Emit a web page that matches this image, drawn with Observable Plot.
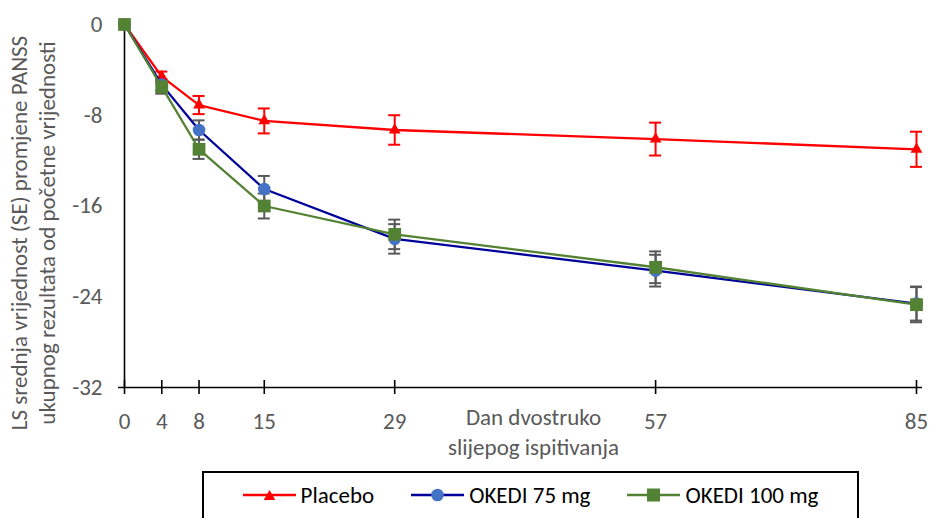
<!DOCTYPE html>
<html>
<head>
<meta charset="utf-8">
<script src="https://cdn.jsdelivr.net/npm/d3@7"></script>
<script src="https://cdn.jsdelivr.net/npm/@observablehq/plot@0.6"></script>
<style>
  html, body { margin: 0; padding: 0; background: white; }
  body { width: 929px; height: 518px; overflow: hidden; font-family: Carlito, Lato, sans-serif; }
  #legend {
    margin-left: 202px; margin-top: 1px; width: 657px; height: 60px; box-sizing: border-box;
    border: 2px solid #000; display: flex; justify-content: center; gap: 37px;
    align-items: flex-start; padding-top: 8px; font-size: 23px; color: #000;
  }
  .item { display: flex; align-items: center; gap: 5px; }
  .item svg { display: block; }
</style>
</head>
<body>
<div id="chart"></div>
<div id="legend"></div>
<script>
// ---- data ----
const days = [0, 4, 8, 15, 29, 57, 85];
const seriesNames = ["Placebo", "OKEDI 75 mg", "OKEDI 100 mg"];
const placebo   = [0, -4.6, -7.1, -8.5, -9.3, -10.1, -11.0];
const placeboSE = [0, 0.45, 0.8, 1.1, 1.3, 1.45, 1.55];
const okedi75   = [0, -5.3, -9.3, -14.5, -18.9, -21.7, -24.6];
const okedi75SE = [0, 0.5, 0.85, 1.15, 1.3, 1.4, 1.5];
const okedi100   = [0, -5.5, -11.0, -16.0, -18.5, -21.4, -24.7];
const okedi100SE = [0, 0.6, 0.85, 1.1, 1.3, 1.4, 1.55];
const xTicks = [0, 4, 8, 15, 29, 57, 85];
const yTicks = [0, -8, -16, -24, -32];
const yTitle = "LS srednja vrijednost (SE) promjene PANSS\nukupnog rezultata od početne vrijednosti";
const xTitle = "Dan dvostruko\nslijepog ispitivanja";

// ---- styles ----
const styles = [
  {line: "#FF0000", fill: "#FF0000", err: "#FF0000", symbol: "triangle", r: 4.4},
  {line: "#00009A", fill: "#4472C4", err: "#595959", symbol: "circle", r: 6.3},
  {line: "#548235", fill: "#548235", err: "#595959", symbol: "square", r: 7.2}
];
const valueSets = [placebo, okedi75, okedi100];
const seSets = [placeboSE, okedi75SE, okedi100SE];

const tables = seriesNames.map((name, s) =>
  days.map((day, i) => ({name, day, v: valueSets[s][i], se: seSets[s][i]}))
);

const FS = 23;
const marks = [];
// axes lines
marks.push(Plot.ruleY([-32], {stroke: "#000", strokeWidth: 1.6}));
marks.push(Plot.ruleX([0], {y1: -32, y2: 0, stroke: "#000", strokeWidth: 1.6}));
marks.push(Plot.ruleX(xTicks, {x: d => d, y1: -32, y2: -32, insetTop: -7, insetBottom: -7, stroke: "#000", strokeWidth: 1.6}));
marks.push(Plot.axisY({ticks: yTicks, tickSize: 0, tickPadding: 16, tickFormat: d => String(d), label: null, fontSize: FS}));
marks.push(Plot.axisX({ticks: xTicks, tickSize: 0, tickPadding: 25, tickFormat: d => String(d), label: null, fontSize: FS}));
// titles
marks.push(Plot.text([yTitle], {frameAnchor: "left", rotate: -90, textAnchor: "middle", lineAnchor: "middle", dx: -86.5, dy: 27, lineHeight: 1.2, fontSize: FS, fill: "#595959"}));
marks.push(Plot.text([xTitle], {frameAnchor: "bottom", textAnchor: "middle", lineAnchor: "middle", dx: 13, dy: 43, lineHeight: 1.3, fontSize: FS, fill: "#595959"}));

// error bars
tables.forEach((t, s) => {
  const d = t.filter(r => r.se > 0);
  const st = styles[s];
  marks.push(Plot.ruleX(d, {x: "day", y1: r => r.v - r.se, y2: r => r.v + r.se, stroke: st.err, strokeWidth: 2}));
  marks.push(Plot.ruleY(d, {y: r => r.v - r.se, x1: "day", x2: "day", insetLeft: -6, insetRight: -6, stroke: st.err, strokeWidth: 2}));
  marks.push(Plot.ruleY(d, {y: r => r.v + r.se, x1: "day", x2: "day", insetLeft: -6, insetRight: -6, stroke: st.err, strokeWidth: 2}));
});
// lines and markers
tables.forEach((t, s) => {
  const st = styles[s];
  marks.push(Plot.line(t, {x: "day", y: "v", stroke: st.line, strokeWidth: 2.3}));
  marks.push(Plot.dot(t, {x: "day", y: "v", symbol: st.symbol, r: st.r, fill: st.fill, stroke: "none"}));
});

const chart = Plot.plot({
  width: 929,
  height: 470,
  marginLeft: 118,
  marginRight: 7,
  marginTop: 24,
  marginBottom: 83,
  x: {domain: [0, 85], inset: 6},
  y: {domain: [-32, 0]},
  style: {fontFamily: "Carlito, Lato, sans-serif", fontSize: FS + "px", color: "#595959", background: "white", overflow: "visible"},
  marks
});
document.getElementById("chart").appendChild(chart);

// legend
const legend = document.getElementById("legend");
seriesNames.forEach((name, s) => {
  const st = styles[s];
  let marker;
  if (st.symbol === "triangle") marker = `<polygon points="26.5,9 32.3,19 20.7,19" fill="${st.fill}"/>`;
  else if (st.symbol === "circle") marker = `<circle cx="26.5" cy="14" r="6.3" fill="${st.fill}"/>`;
  else marker = `<rect x="20" y="7.5" width="13" height="13" fill="${st.fill}"/>`;
  const item = document.createElement("div");
  item.className = "item";
  item.innerHTML = `<svg width="53" height="28"><line x1="0" x2="53" y1="14" y2="14" stroke="${st.line}" stroke-width="2.3"/>${marker}</svg><span>${name}</span>`;
  legend.appendChild(item);
});
</script>
</body>
</html>
